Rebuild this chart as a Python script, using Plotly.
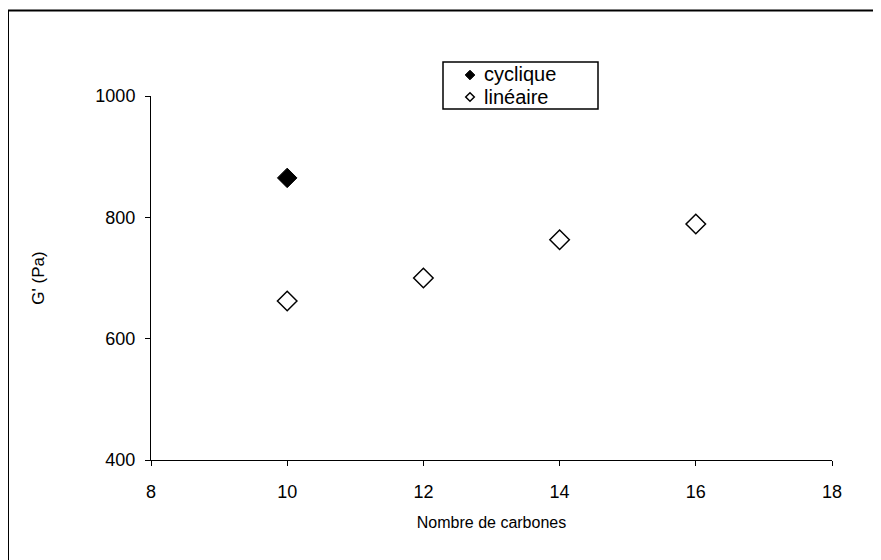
import plotly.graph_objects as go

cyc_x = [10]
cyc_y = [865]
lin_x = [10, 12, 14, 16]
lin_y = [662, 700, 763, 789]
x_ticks = [8, 10, 12, 14, 16, 18]
y_ticks = [400, 600, 800, 1000]
names = ["cyclique", "linéaire"]

FONT = "Liberation Sans, Arial, sans-serif"
W, H = 881, 560
OFF = 8  # page offset of the figure on screen
L, T = 143, 88
pw, ph = 681, 364
R, B = W - L - pw, H - T - ph


def px(sx):
    return (sx - OFF - L) / pw


def py(sy):
    return (H - B - (sy - OFF)) / ph


fig = go.Figure()
fig.add_trace(go.Scatter(
    x=cyc_x, y=cyc_y, mode="markers", name=names[0],
    marker=dict(symbol="diamond", size=15, color="black",
                line=dict(color="black", width=1))))
fig.add_trace(go.Scatter(
    x=lin_x, y=lin_y, mode="markers", name=names[1],
    marker=dict(symbol="diamond", size=15, color="white",
                line=dict(color="black", width=1.5))))

shapes = []
# outer chart border
shapes.append(dict(type="rect", xref="paper", yref="paper",
                   x0=px(8), x1=px(900), y0=py(580), y1=py(10.5),
                   line=dict(color="black", width=2),
                   fillcolor="rgba(0,0,0,0)", layer="below"))
# legend box
shapes.append(dict(type="rect", xref="paper", yref="paper",
                   x0=px(443), x1=px(598), y0=py(109), y1=py(62),
                   line=dict(color="black", width=1.5),
                   fillcolor="white", layer="above"))


def diamond(cx, cy, r, fill, lw):
    path = (f"M {px(cx - r)} {py(cy)} L {px(cx)} {py(cy - r)} "
            f"L {px(cx + r)} {py(cy)} L {px(cx)} {py(cy + r)} Z")
    return dict(type="path", xref="paper", yref="paper", path=path,
                fillcolor=fill, line=dict(color="black", width=lw),
                layer="above")


shapes.append(diamond(470, 75, 4.8, "black", 1))
shapes.append(diamond(470, 97, 4.3, "white", 1.5))

annotations = [
    dict(text=names[0], x=px(483), y=py(74), xref="paper", yref="paper",
         xanchor="left", yanchor="middle", showarrow=False, borderpad=0,
         font=dict(size=20, family=FONT, color="black")),
    dict(text=names[1], x=px(483), y=py(97), xref="paper", yref="paper",
         xanchor="left", yanchor="middle", showarrow=False, borderpad=0,
         font=dict(size=20, family=FONT, color="black")),
]

fig.update_layout(
    width=W, height=H,
    margin=dict(l=L, r=R, t=T, b=B, autoexpand=False),
    paper_bgcolor="white", plot_bgcolor="white",
    font=dict(family=FONT, size=18, color="black"),
    showlegend=False,
    shapes=shapes,
    annotations=annotations,
    xaxis=dict(range=[8, 18], tickvals=x_ticks, showgrid=False, zeroline=False,
               showline=True, linecolor="black", linewidth=1,
               ticks="outside", ticklen=5, tickcolor="black",
               ticklabelstandoff=10, tickfont=dict(size=18),
               title=dict(text="Nombre de carbones", standoff=16,
                          font=dict(size=16))),
    yaxis=dict(range=[400, 1000], tickvals=y_ticks, showgrid=False, zeroline=False,
               showline=True, linecolor="black", linewidth=1,
               ticks="outside", ticklen=5, tickcolor="black",
               ticklabelstandoff=6, tickfont=dict(size=18),
               title=dict(text="G' (Pa)", standoff=46, font=dict(size=17))),
)

fig.write_html("out.html")
